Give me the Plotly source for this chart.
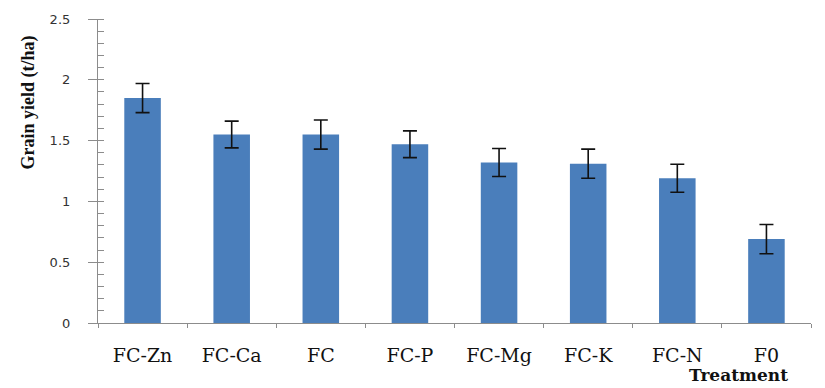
import plotly.graph_objects as go

# Grain yield by fertiliser treatment, with error bars
treatments = ["FC-Zn", "FC-Ca", "FC", "FC-P", "FC-Mg", "FC-K", "FC-N", "F0"]
grain_yield = [1.85, 1.55, 1.55, 1.47, 1.32, 1.31, 1.19, 0.69]
yield_error = [0.12, 0.11, 0.12, 0.11, 0.115, 0.12, 0.115, 0.12]
y_ticks = [0, 0.5, 1, 1.5, 2, 2.5]
y_tick_labels = ["0", "0.5", "1", "1.5", "2", "2.5"]

bar_color = "#4a7ebb"
axis_gray = "#8c8c8c"

fig = go.Figure(
    go.Bar(
        x=treatments,
        y=grain_yield,
        width=0.41,
        marker=dict(color=bar_color, line=dict(width=0)),
        error_y=dict(
            type="data",
            array=yield_error,
            visible=True,
            color="#111111",
            thickness=1.6,
            width=7,
        ),
    )
)

fig.update_layout(
    width=825,
    height=388,
    margin=dict(l=98, r=14, t=16, b=65),
    paper_bgcolor="white",
    plot_bgcolor="white",
    showlegend=False,
    xaxis=dict(
        type="category",
        showline=True,
        linecolor=axis_gray,
        linewidth=1.2,
        ticks="outside",
        tickson="boundaries",
        ticklen=4,
        tickcolor=axis_gray,
        tickfont=dict(family="DejaVu Serif", size=19, color="#111111"),
        ticklabelstandoff=15,
        showgrid=False,
        zeroline=False,
    ),
    yaxis=dict(
        range=[0, 2.5],
        tickvals=y_ticks,
        ticktext=y_tick_labels,
        showline=True,
        linecolor=axis_gray,
        linewidth=1.2,
        ticks="outside",
        ticklen=9,
        tickcolor=axis_gray,
        tickfont=dict(family="DejaVu Sans", size=13, color="#333333"),
        ticklabelstandoff=15,
        minor=dict(ticks="inside", ticklen=6, dtick=0.1, tickcolor=axis_gray, showgrid=False),
        showgrid=False,
        zeroline=False,
    ),
    annotations=[
        dict(
            text="<b>Grain yield (t/ha)</b>",
            textangle=-90,
            xref="paper",
            yref="paper",
            x=-0.098,
            y=0.726,
            xanchor="center",
            yanchor="middle",
            showarrow=False,
            font=dict(family="Liberation Serif", size=18, color="#111111"),
        ),
        dict(
            text="<b>Treatment</b>",
            xref="paper",
            yref="paper",
            x=0.9705,
            y=-0.172,
            xanchor="right",
            yanchor="middle",
            showarrow=False,
            font=dict(family="DejaVu Serif", size=17, color="#111111"),
        ),
    ],
)

fig.write_html("out.html")
